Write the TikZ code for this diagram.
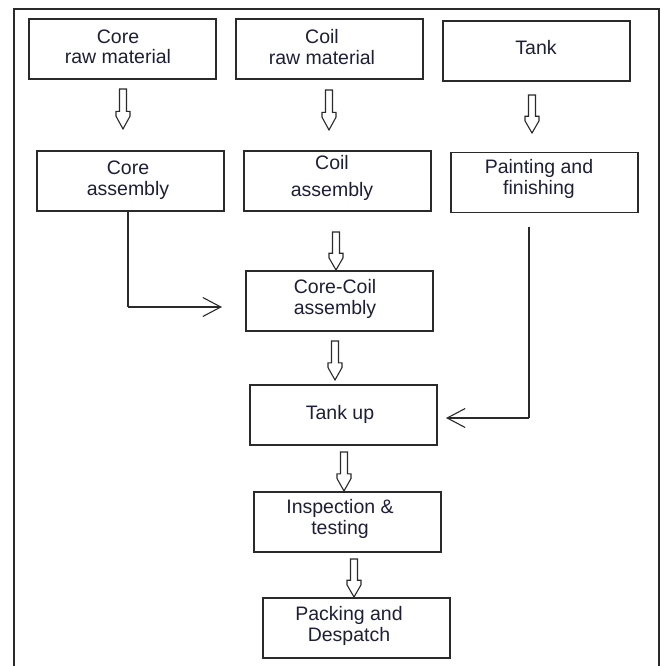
\documentclass[tikz,border=0pt]{standalone}
\usepackage{fontspec}
\setmainfont{Liberation Sans}
\usetikzlibrary{arrows.meta}
\definecolor{ink}{HTML}{2A2A2A}
\definecolor{txt}{HTML}{1E1E38}
\newcommand\hollowdown[3]{%
  \draw[hol] ({#1-3.5},#2) -- ({#1+3.5},#2) -- ({#1+3.5},{#2+0.56*(#3-#2)})
    -- ({#1+7},{#2+0.56*(#3-#2)}) -- ({#1+7},{#2+0.68*(#3-#2)}) -- (#1,#3)
    -- ({#1-7},{#2+0.68*(#3-#2)}) -- ({#1-7},{#2+0.56*(#3-#2)})
    -- ({#1-3.5},{#2+0.56*(#3-#2)}) -- cycle;}
\begin{document}
\begin{tikzpicture}[x=1pt,y=-1pt,
  box/.style={draw=ink, line width=1.3pt, minimum width=187pt, minimum height=60pt, inner sep=0pt},
  lbl/.style={text=txt, align=center, inner sep=0pt, font=\fontsize{19.5}{20.5}\selectfont},
  hol/.style={draw=ink, line width=1.1pt, fill=white, line join=miter},
  conn/.style={draw=ink, line width=1.1pt},
  barb/.style={-{Straight Barb[length=18pt,width=19pt,line width=1.1pt]}}]
\useasboundingbox (0,0) rectangle (662,666);
\draw[ink, line width=1.3pt] (14,680) -- (14,9) -- (659,9) -- (659,680);
% boxes
\node[box] (craw) at (122.5,49) {};
\node[box] (lraw) at (329.5,49) {};
\node[box] (tank) at (536.5,51) {};
\node[box] (casm) at (130.5,181) {};
\node[box] (lasm) at (337.5,181) {};
\node[box] (paint) at (544.5,182.5) {};
\node[box] (cc) at (339.5,301) {};
\node[box] (tup) at (343.5,415) {};
\node[box] (insp) at (347.5,522) {};
\node[box] (pack) at (356.5,628) {};
% texts
\node[lbl] (t1) at (118,47) {Core\\raw material};
\node[lbl] (t2) at (322,47) {Coil\\raw material};
\node[lbl] (t3) at (536,48) {Tank};
\node[lbl] (t4) at (128,180) {Core\\assembly};
\node[lbl] (t5) at (332,178) {Coil\\[6pt]assembly};
\node[lbl] (t6) at (539,179) {Painting and\\finishing\hspace{18pt}};
\node[lbl] (t7) at (335,299) {Core-Coil\\assembly};
\node[lbl] (t8) at (340,414) {Tank up};
\node[lbl] (t9) at (340,519) {Inspection \&\\testing\hspace{14pt}};
\node[lbl] (t10) at (349,626) {Packing and\\Despatch\hspace{12pt}};
% hollow arrows
\hollowdown{123}{89}{129}
\hollowdown{329}{90}{130}
\hollowdown{532}{95}{133}
\hollowdown{336}{232}{270}
\hollowdown{335}{341}{380}
\hollowdown{344}{452}{491}
\hollowdown{354}{559}{597}
% line connectors
\coordinate (k1) at (128,307);
\coordinate (k1e) at (222,307);
\coordinate (k2s) at (529,227);
\coordinate (k2) at (529,418);
\coordinate (k2e) at (446,418);
\draw[conn] (casm.south -| k1) -- (k1);
\draw[conn, barb] (k1) -- (k1e);
\draw[conn] (k2s) -- (k2);
\draw[conn, barb] (k2) -- (k2e);
\end{tikzpicture}
\end{document}
